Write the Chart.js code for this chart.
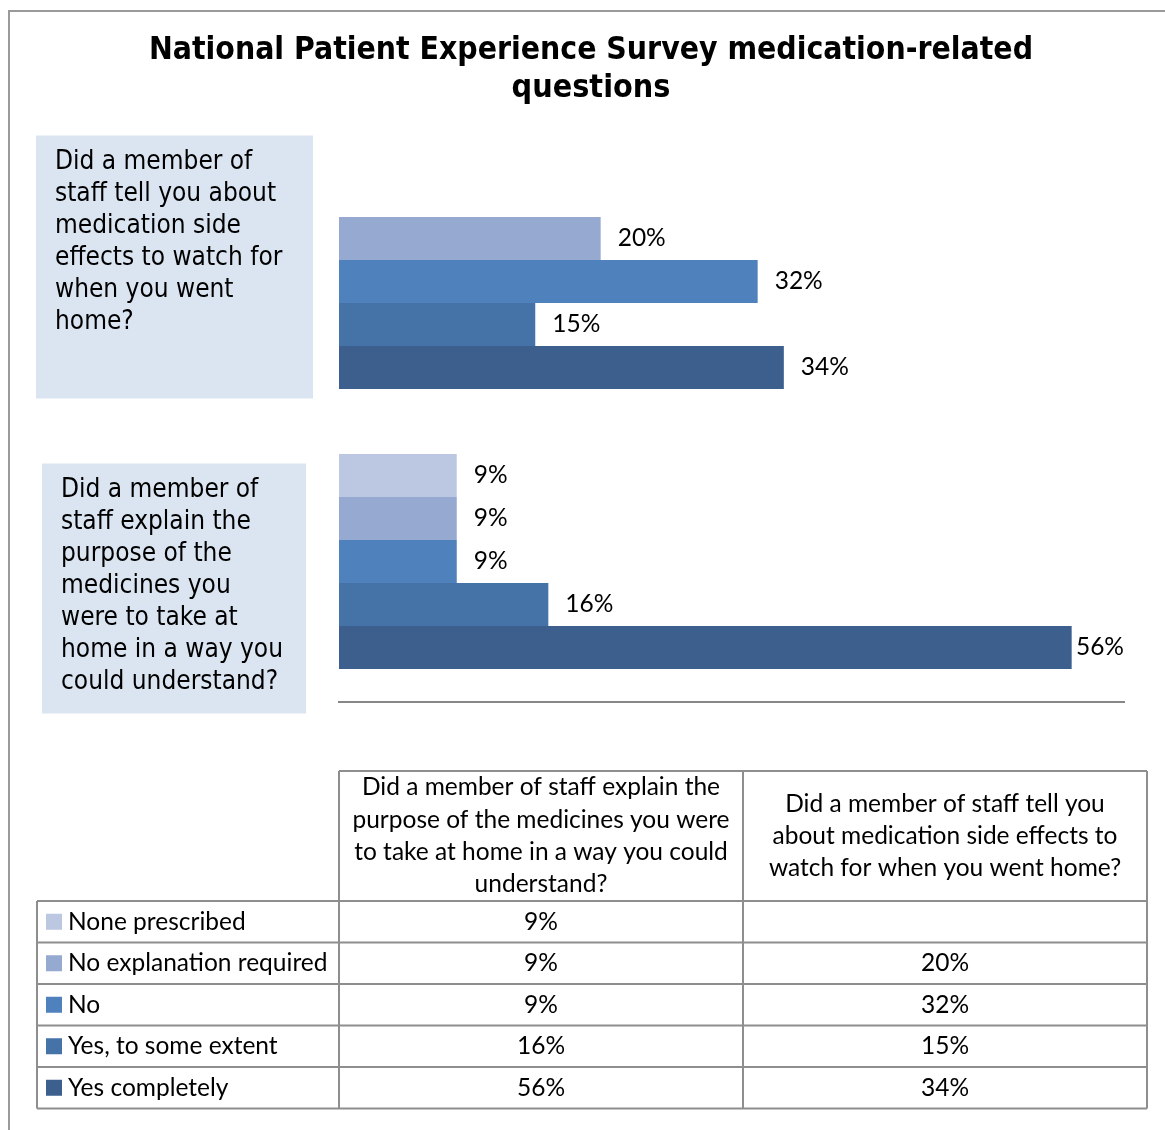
<!DOCTYPE html>
<html>
<head>
<meta charset="utf-8">
<title>National Patient Experience Survey medication-related questions</title>
<script src="https://cdn.jsdelivr.net/npm/chart.js@4.4.0/dist/chart.umd.min.js"></script>
<style>
  html, body { margin: 0; padding: 0; background: #fff; }
  canvas { display: block; }
</style>
</head>
<body>
<canvas id="survey-chart" width="1165" height="1130"></canvas>
<script>
'use strict';

// Questions, top to bottom as they sit on the chart
var questions = [
  'Did a member of staff tell you about medication side effects to watch for when you went home?',
  'Did a member of staff explain the purpose of the medicines you were to take at home in a way you could understand?'
];

// Line breaks for the question boxes beside the bars
var questionLines = [
  ['Did a member of', 'staff tell you about', 'medication side', 'effects to watch for', 'when you went', 'home?'],
  ['Did a member of', 'staff explain the', 'purpose of the', 'medicines you', 'were to take at', 'home in a way you', 'could understand?']
];

// Line breaks for the data table headers
var headerLines = [
  ['Did a member of staff tell you', 'about medication side effects to', 'watch for when you went home?'],
  ['Did a member of staff explain the', 'purpose of the medicines you were', 'to take at home in a way you could', 'understand?']
];

// Table columns list the questions bottom-up
var tableOrder = [1, 0];

var responses = ['None prescribed', 'No explanation required', 'No', 'Yes, to some extent', 'Yes completely'];

// Percent of patients per answer: [side effects, purpose]
var nonePrescribed = [null, 9];
var noExplanation  = [20, 9];
var answeredNo     = [32, 9];
var yesSomeExtent  = [15, 16];
var yesCompletely  = [34, 56];

var seriesColors = ['#BCC8E1', '#95A9D1', '#4F81BD', '#4572A7', '#3C5F8E'];

var BOX_FONT = '"DejaVu Sans Condensed", "DejaVu Sans", sans-serif';
var CELL_FONT = 'Lato, "Open Sans", sans-serif';
var GRID = '#8E8E8E';


// Question boxes on the left, placed against their category row
//
var boxes = [
  { left: 36, right: 313, above: 146, below: 117 },
  { left: 42, right: 306, above: 98,  below: 152 }
];


// Extra drawing: frame, title, question boxes, value labels, data table
//
var surveyDecor = {
  id: 'surveyDecor',
  afterDraw: function(chart) {
    var ctx = chart.ctx;
    var area = chart.chartArea;
    var yScale = chart.scales.y;

    ctx.save();

    // outer frame
    ctx.strokeStyle = '#9A9A9A';
    ctx.lineWidth = 2;
    ctx.beginPath();
    ctx.moveTo(9, chart.height);
    ctx.lineTo(9, 11);
    ctx.lineTo(chart.width, 11);
    ctx.stroke();

    // title
    ctx.fillStyle = '#000';
    ctx.textAlign = 'center';
    ctx.textBaseline = 'middle';
    ctx.font = 'bold 32px ' + BOX_FONT;
    ctx.fillText('National Patient Experience Survey medication-related', 591, 51, 884);
    ctx.fillText('questions', 591, 89);

    // question boxes
    ctx.textAlign = 'left';
    ctx.font = '26px ' + BOX_FONT;
    boxes.forEach(function(box, i) {
      var c = yScale.getPixelForValue(i);
      var top = c - box.above;
      ctx.fillStyle = '#DBE5F1';
      ctx.fillRect(box.left, top, box.right - box.left, box.above + box.below);
      ctx.fillStyle = '#000';
      questionLines[i].forEach(function(line, k) {
        ctx.fillText(line, box.left + 19, top + 27 + k * 32);
      });
    });

    // value labels, kept inside the plot on the right
    ctx.font = '24.5px ' + CELL_FONT;
    chart.data.datasets.forEach(function(ds, d) {
      var meta = chart.getDatasetMeta(d);
      meta.data.forEach(function(bar, i) {
        var v = ds.data[i];
        if (v == null) return;
        var text = v + '%';
        var w = ctx.measureText(text).width;
        ctx.fillText(text, Math.min(bar.x + 17, area.right - w), bar.y);
      });
    });

    // data table
    var cols = [37, 339, 743, 1147];
    var headTop = 771, rowTop = 901, rowH = 41.5;
    var rowBottom = rowTop + rowH * responses.length;

    ctx.strokeStyle = GRID;
    ctx.lineWidth = 2;
    ctx.beginPath();
    ctx.moveTo(cols[1], headTop); ctx.lineTo(cols[3], headTop);
    for (var r = 0; r <= responses.length; r++) {
      ctx.moveTo(cols[0], rowTop + r * rowH);
      ctx.lineTo(cols[3], rowTop + r * rowH);
    }
    ctx.moveTo(cols[0], rowTop); ctx.lineTo(cols[0], rowBottom);
    for (var c = 1; c < cols.length; c++) {
      ctx.moveTo(cols[c], headTop); ctx.lineTo(cols[c], rowBottom);
    }
    ctx.stroke();

    ctx.fillStyle = '#000';
    ctx.font = '24.5px ' + CELL_FONT;
    ctx.textAlign = 'center';
    tableOrder.forEach(function(q, col) {
      var cx = (cols[col + 1] + cols[col + 2]) / 2;
      var lines = headerLines[q];
      var firstY = (headTop + rowTop) / 2 - (lines.length - 1) * 32.3 / 2;
      lines.forEach(function(line, k) {
        ctx.fillText(line, cx, firstY + k * 32.3, cols[col + 2] - cols[col + 1] - 10);
      });
    });

    chart.data.datasets.forEach(function(ds, d) {
      var cy = rowTop + rowH * d + rowH / 2;
      ctx.fillStyle = ds.backgroundColor;
      ctx.fillRect(46, cy - 8, 16, 16);
      ctx.fillStyle = '#000';
      ctx.textAlign = 'left';
      ctx.fillText(ds.label, 68, cy, cols[1] - 70);
      ctx.textAlign = 'center';
      tableOrder.forEach(function(q, col) {
        var v = ds.data[q];
        if (v == null) return;
        ctx.fillText(v + '%', (cols[col + 1] + cols[col + 2]) / 2, cy);
      });
    });

    ctx.restore();
  }
};


function drawChart() {
  var series = [nonePrescribed, noExplanation, answeredNo, yesSomeExtent, yesCompletely];

  new Chart(document.getElementById('survey-chart'), {
    type: 'bar',
    data: {
      labels: questions,
      datasets: series.map(function(values, i) {
        return {
          label: responses[i],
          data: values,
          backgroundColor: seriesColors[i],
          borderWidth: 0,
          categoryPercentage: 0.768,
          barPercentage: 1
        };
      })
    },
    options: {
      indexAxis: 'y',
      responsive: false,
      animation: false,
      devicePixelRatio: 1,
      layout: {
        padding: { left: 339, right: 41, top: 141.5, bottom: 428.5 }
      },
      scales: {
        x: {
          min: 0,
          max: 60,
          grid: { display: false, drawTicks: false },
          ticks: { display: false },
          border: { display: true, color: '#878787', width: 2 }
        },
        y: {
          display: false
        }
      },
      plugins: {
        legend: { display: false },
        tooltip: { enabled: false }
      }
    },
    plugins: [surveyDecor]
  });
}


// make sure the local fonts are ready before the canvas text is drawn
Promise.all([
  document.fonts.load('26px "DejaVu Sans Condensed"'),
  document.fonts.load('bold 32px "DejaVu Sans Condensed"'),
  document.fonts.load('24.5px Lato')
]).then(drawChart, drawChart);
</script>
</body>
</html>
